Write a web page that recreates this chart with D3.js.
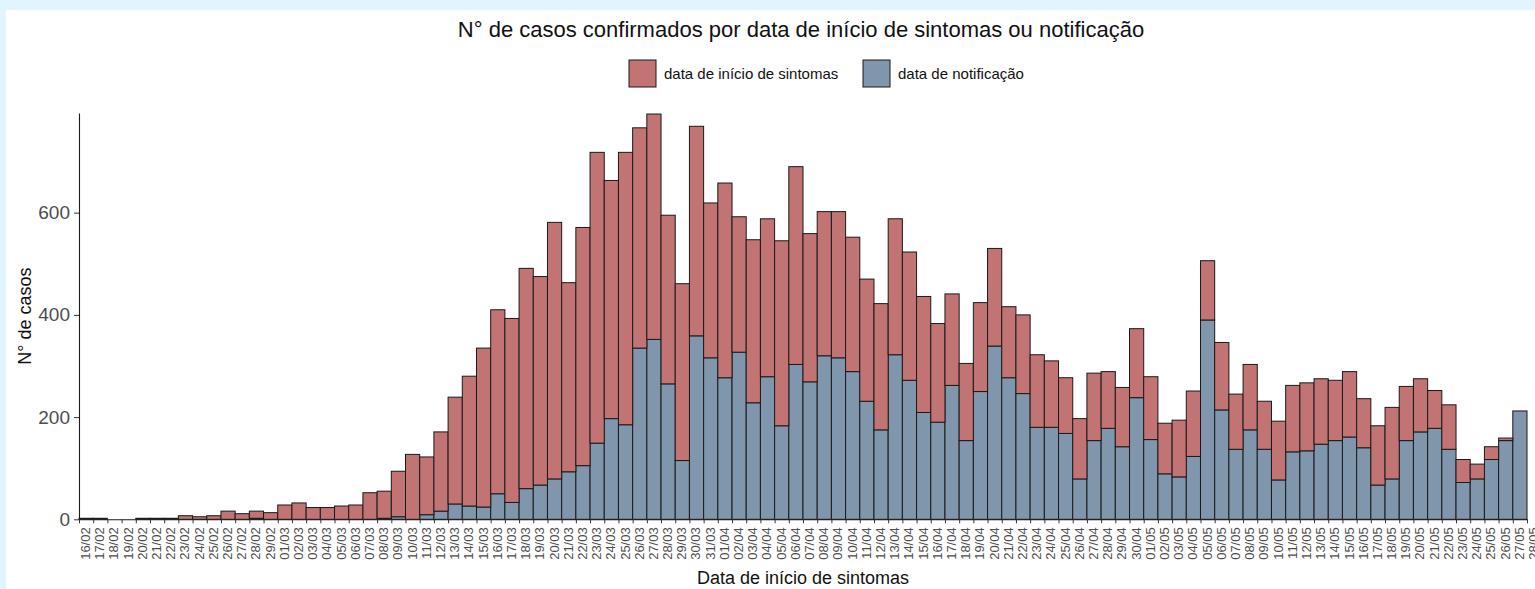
<!DOCTYPE html>
<html>
<head>
<meta charset="utf-8">
<script src="https://cdn.jsdelivr.net/npm/d3@7"></script>
<style>
  html, body { margin: 0; padding: 0; background: #e1f6fc; }
  svg { display: block; font-family: "Liberation Sans", Arial, sans-serif; }
</style>
</head>
<body>
<svg id="chart" width="1535" height="589"></svg>
<script>
// ---- DATA ----
const categories = ["16/02","17/02","18/02","19/02","20/02","21/02","22/02","23/02","24/02","25/02","26/02","27/02","28/02","29/02",
  "01/03","02/03","03/03","04/03","05/03","06/03","07/03","08/03","09/03","10/03","11/03","12/03","13/03","14/03","15/03","16/03",
  "17/03","18/03","19/03","20/03","21/03","22/03","23/03","24/03","25/03","26/03","27/03","28/03","29/03","30/03","31/03",
  "01/04","02/04","03/04","04/04","05/04","06/04","07/04","08/04","09/04","10/04","11/04","12/04","13/04","14/04","15/04",
  "16/04","17/04","18/04","19/04","20/04","21/04","22/04","23/04","24/04","25/04","26/04","27/04","28/04","29/04","30/04",
  "01/05","02/05","03/05","04/05","05/05","06/05","07/05","08/05","09/05","10/05","11/05","12/05","13/05","14/05","15/05",
  "16/05","17/05","18/05","19/05","20/05","21/05","22/05","23/05","24/05","25/05","26/05","27/05"];
const tickLabels = categories.concat(["28/05"]);

// blue: cases by notification date (bottom of the stack)
const notificacao = [0,0,0,0,0,0,0,0,0,0,0,0,2,0,
  0,0,0,0,0,0,0,2,5,0,9,16,30,26,24,50,
  33,60,67,79,93,105,149,197,185,335,352,265,115,359,316,
  277,327,228,279,183,303,269,320,316,289,231,175,322,272,209,
  190,262,154,250,339,277,246,180,180,168,79,154,178,142,238,
  156,89,83,123,390,214,137,175,137,77,132,134,147,154,161,
  140,67,79,154,171,178,137,72,79,117,154,212];

// red: cases by symptom-onset date (stacked on top)
const inicioSintomas = [2,2,0,0,2,2,2,7,5,7,16,11,14,13,
  28,32,23,23,26,28,52,53,89,127,113,155,209,254,311,360,
  360,431,408,502,370,466,569,466,533,431,441,330,346,410,303,
  381,265,319,309,362,387,290,282,286,263,239,247,266,251,227,
  193,179,151,174,191,139,154,142,130,109,118,132,111,116,135,
  123,99,111,128,116,132,108,128,94,115,130,133,128,118,128,
  96,116,140,106,104,74,87,45,29,25,5,0];

const yTicks = [0, 200, 400, 600];
const seriesNames = ["data de início de sintomas", "data de notificação"];
const seriesColors = ["#c27474", "#7f96ad"];

// ---- CHART ----
const svg = d3.select("#chart");
svg.append("rect").attr("x", 6).attr("y", 10).attr("width", 1529).attr("height", 579).attr("fill", "#ffffff");

const rows = categories.map((c, i) => ({ i, cat: c, notificacao: notificacao[i], sintomas: inicioSintomas[i] }));
const stack = d3.stack().keys(["notificacao", "sintomas"]);
const stacked = stack(rows);

const x = d3.scaleLinear().domain([0, categories.length]).range([79, 1527]);
const y = d3.scaleLinear().domain([0, 795]).range([519.3, 113]);

const colorByKey = { notificacao: seriesColors[1], sintomas: seriesColors[0] };

const layers = svg.append("g").selectAll("g").data(stacked).join("g")
  .attr("fill", d => colorByKey[d.key]);
layers.selectAll("rect").data(d => d.filter(p => p[1] - p[0] > 0)).join("rect")
  .attr("x", d => x(d.data.i))
  .attr("width", d => x(d.data.i + 1) - x(d.data.i))
  .attr("y", d => y(d[1]))
  .attr("height", d => y(d[0]) - y(d[1]))
  .attr("stroke", "#1a1a1a")
  .attr("stroke-width", 1);

// x axis
const xAxis = d3.axisBottom(x)
  .tickValues(d3.range(tickLabels.length))
  .tickFormat(i => tickLabels[i])
  .tickSize(4).tickSizeOuter(0);
const gx = svg.append("g").attr("transform", `translate(0,${y(0)})`).call(xAxis);
gx.select(".domain").attr("stroke", "#1a1a1a").attr("stroke-width", 1.1);
gx.selectAll(".tick line").attr("stroke", "#333333");
gx.selectAll(".tick text")
  .attr("fill", "#4d4d4d")
  .style("font-size", "13px")
  .attr("text-anchor", "end")
  .attr("transform", "translate(6,8) rotate(-90)")
  .attr("x", 0).attr("y", 0).attr("dy", "0.35em");

// y axis
const yAxis = d3.axisLeft(y).tickValues(yTicks).tickSize(5).tickSizeOuter(0).tickPadding(4);
const gy = svg.append("g").attr("transform", `translate(${x(0)},0)`).call(yAxis);
gy.select(".domain").attr("stroke", "#1a1a1a").attr("stroke-width", 1.1);
gy.selectAll(".tick line").attr("stroke", "#333333");
gy.selectAll(".tick text").attr("fill", "#4d4d4d").style("font-size", "19px").attr("font-family", "Liberation Sans, Arial, sans-serif");

// titles
svg.append("text").attr("x", 801).attr("y", 37).attr("text-anchor", "middle")
  .style("font-size", "22px").attr("fill", "#111")
  .text("N° de casos confirmados por data de início de sintomas ou notificação");

svg.append("text").attr("x", 803).attr("y", 584).attr("text-anchor", "middle")
  .style("font-size", "18px").attr("fill", "#111")
  .text("Data de início de sintomas");

svg.append("text").attr("transform", `translate(31,${(y(0) + y(795)) / 2}) rotate(-90)`)
  .attr("text-anchor", "middle").style("font-size", "18px").attr("fill", "#111")
  .text("N° de casos");

// legend
const legendItems = [
  { name: seriesNames[0], color: seriesColors[0], x: 629, tx: 664 },
  { name: seriesNames[1], color: seriesColors[1], x: 863, tx: 898 }
];
const lg = svg.append("g");
legendItems.forEach(it => {
  lg.append("rect").attr("x", it.x).attr("y", 60).attr("width", 27).attr("height", 27)
    .attr("fill", it.color).attr("stroke", "#1a1a1a").attr("stroke-width", 1);
  lg.append("text").attr("x", it.tx).attr("y", 79).style("font-size", "15px").attr("fill", "#111").text(it.name);
});
</script>
</body>
</html>
